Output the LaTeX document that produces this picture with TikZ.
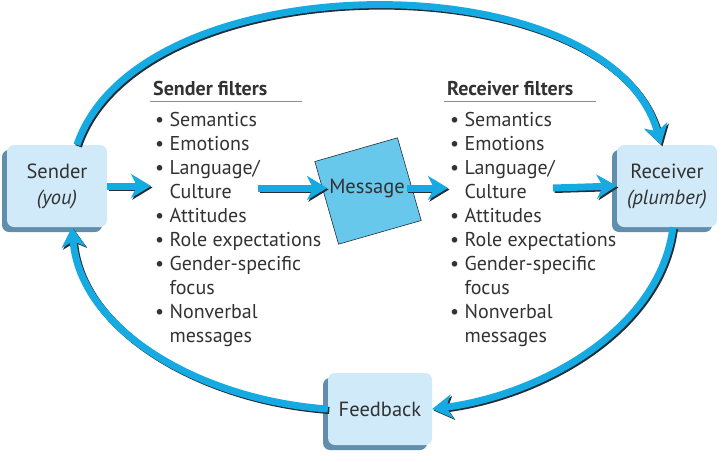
\documentclass[tikz,border=0pt]{standalone}
\usepackage{fontspec}
\setmainfont{PT Sans}
\usepackage{xcolor}
\usetikzlibrary{arrows.meta, positioning, calc, shadows}
\definecolor{FlowBlue}{RGB}{22,170,226}
\definecolor{FlowEdge}{RGB}{35,45,55}
\definecolor{BoxFill}{RGB}{208,234,249}
\definecolor{BoxShade}{RGB}{96,142,172}
\definecolor{MsgFill}{RGB}{104,200,236}
\definecolor{InkGray}{RGB}{50,50,50}
\definecolor{RuleGray}{RGB}{140,140,140}

\begin{document}
\begin{tikzpicture}[
        x=1pt, y=-1pt,
        party/.style={rectangle, rounded corners=7pt, fill=BoxFill, minimum width=100pt, minimum height=82pt,
            align=center, text=InkGray, font=\fontsize{20.5}{26}\selectfont,
            drop shadow={shadow xshift=-5pt, shadow yshift=-5pt, fill=BoxShade, opacity=1}},
        flow/.style={line width=7pt, FlowBlue, -{Stealth[length=20pt, width=24pt, inset=6pt]},
            preaction={draw=FlowEdge, line width=7pt, transform canvas={shift={(1.5pt,-1.5pt)}}}},
        filterhead/.style={font=\fontsize{20}{24}\selectfont\bfseries, text=InkGray, inner sep=0pt},
        filterlist/.style={font=\fontsize{20}{24}\selectfont, text=InkGray, align=left, inner sep=0pt},
        msgsquare/.style={rectangle, fill=MsgFill, draw=FlowEdge, line width=0.6pt, minimum size=86pt}
    ]
    \useasboundingbox (0,0) rectangle (722,461);

    % Nadawca, odbiorca, informacja zwrotna
    \node[party] (sender) at (57,186) {Sender\\\textit{(you)}};
    \node[party] (receiver) at (667,186) {Receiver\\\textit{(plumber)}};
    \node[party, minimum width=104pt, minimum height=72pt] (feedback) at (380,409) {Feedback};

    % Filtry nadawcy
    \node[filterhead, anchor=base west] (sfhead) at (153,95) {Sender filters};
    \draw[RuleGray, line width=1pt] ([shift={(-3,6)}]sfhead.base west) -- ++(152,0);
    \node[filterlist, anchor=north west] (sflist) at (155,112) {%
        \textbullet\ Semantics\\
        \textbullet\ Emotions\\
        \textbullet\ Language/\\
        \hphantom{\textbullet\ }Culture\\
        \textbullet\ Attitudes\\
        \textbullet\ Role expectations\\
        \textbullet\ Gender-specific\\
        \hphantom{\textbullet\ }focus\\
        \textbullet\ Nonverbal\\
        \hphantom{\textbullet\ }messages};

    % Filtry odbiorcy
    \node[filterhead, anchor=base west] (rfhead) at (447,95) {Receiver filters};
    \draw[RuleGray, line width=1pt] ([shift={(-3,6)}]rfhead.base west) -- ++(152,0);
    \node[filterlist, anchor=north west] (rflist) at (450,112) {%
        \textbullet\ Semantics\\
        \textbullet\ Emotions\\
        \textbullet\ Language/\\
        \hphantom{\textbullet\ }Culture\\
        \textbullet\ Attitudes\\
        \textbullet\ Role expectations\\
        \textbullet\ Gender-specific\\
        \hphantom{\textbullet\ }focus\\
        \textbullet\ Nonverbal\\
        \hphantom{\textbullet\ }messages};

    % Komunikat
    \node[msgsquare, rotate=16] (msgbox) at (368,191) {};
    \node[font=\fontsize{20.5}{24}\selectfont, text=InkGray, inner sep=2pt] (message) at (367,188) {Message};

    % Petla komunikacji
    \draw[flow] ([xshift=20]sender.north) .. controls (140,-40) and (610,-40) .. ([xshift=-6]receiver.north);
    \draw[flow] ([xshift=6]receiver.south) .. controls (660,330) and (540,395) .. (feedback.east);
    \draw[flow] (feedback.west) .. controls (200,400) and (80,330) .. ([xshift=15]sender.south);

    % Strzalki proste
    \coordinate (sfout) at (258,188);
    \coordinate (rfout) at (553,188);
    \draw[flow, shorten >=4pt] (sender.east) -- (sender.east -| sflist.west);
    \draw[flow] (sfout) -- (message.west);
    \draw[flow, shorten >=2pt] (message.east) -- (message.east -| rflist.west);
    \draw[flow] (rfout) -- (receiver.west);

\end{tikzpicture}
\end{document}
